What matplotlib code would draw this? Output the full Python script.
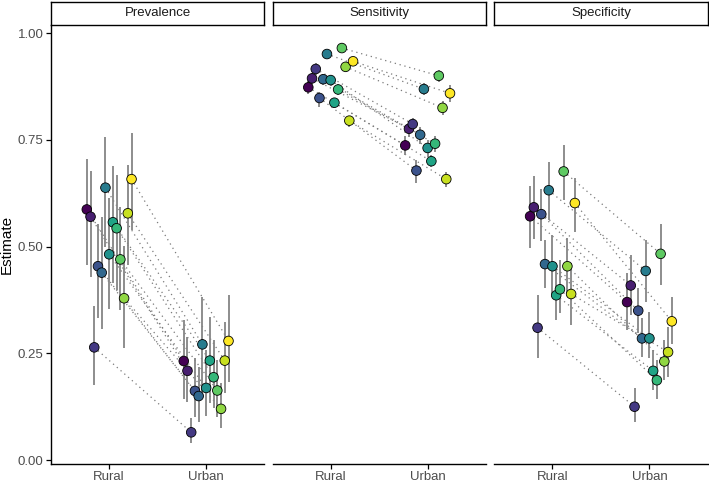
import numpy as np
import matplotlib
matplotlib.use("Agg")
import matplotlib.pyplot as plt

measures = ["Prevalence", "Sensitivity", "Specificity"]
settings = ["Rural", "Urban"]
n_groups = 13

# estimates per group (13 groups, viridis order), rural then urban
prev_rural = [0.587, 0.570, 0.264, 0.454, 0.439, 0.638, 0.482, 0.557, 0.543, 0.470, 0.379, 0.578, 0.658]
prev_rural_lo = [0.457, 0.429, 0.176, 0.332, 0.308, 0.500, 0.353, 0.414, 0.398, 0.351, 0.262, 0.457, 0.539]
prev_rural_hi = [0.704, 0.677, 0.361, 0.554, 0.570, 0.756, 0.613, 0.689, 0.667, 0.593, 0.501, 0.691, 0.765]
prev_urban = [0.232, 0.209, 0.065, 0.162, 0.150, 0.271, 0.169, 0.233, 0.194, 0.163, 0.120, 0.233, 0.279]
prev_urban_lo = [0.144, 0.137, 0.039, 0.101, 0.090, 0.156, 0.103, 0.133, 0.121, 0.101, 0.074, 0.156, 0.183]
prev_urban_hi = [0.328, 0.289, 0.098, 0.238, 0.219, 0.382, 0.258, 0.336, 0.281, 0.234, 0.180, 0.324, 0.386]

sens_rural = [0.873, 0.894, 0.916, 0.848, 0.892, 0.951, 0.890, 0.837, 0.868, 0.965, 0.921, 0.795, 0.934]
sens_rural_lo = [0.858, 0.880, 0.903, 0.827, 0.879, 0.942, 0.877, 0.824, 0.855, 0.956, 0.910, 0.781, 0.923]
sens_rural_hi = [0.888, 0.907, 0.929, 0.862, 0.905, 0.960, 0.903, 0.849, 0.881, 0.978, 0.932, 0.804, 0.945]
sens_urban = [0.737, 0.776, 0.787, 0.678, 0.762, 0.869, 0.731, 0.700, 0.741, 0.900, 0.825, 0.658, 0.859]
sens_urban_lo = [0.715, 0.757, 0.770, 0.648, 0.740, 0.855, 0.710, 0.687, 0.722, 0.886, 0.808, 0.640, 0.839]
sens_urban_hi = [0.758, 0.795, 0.802, 0.703, 0.780, 0.882, 0.750, 0.714, 0.758, 0.913, 0.840, 0.675, 0.878]

spec_rural = [0.571, 0.592, 0.310, 0.576, 0.459, 0.632, 0.454, 0.386, 0.400, 0.676, 0.454, 0.389, 0.602]
spec_rural_lo = [0.496, 0.517, 0.238, 0.514, 0.402, 0.562, 0.390, 0.328, 0.344, 0.609, 0.390, 0.316, 0.535]
spec_rural_hi = [0.642, 0.665, 0.386, 0.636, 0.515, 0.699, 0.527, 0.449, 0.468, 0.738, 0.519, 0.461, 0.660]
spec_urban = [0.370, 0.409, 0.125, 0.350, 0.285, 0.443, 0.285, 0.209, 0.187, 0.483, 0.231, 0.253, 0.325]
spec_urban_lo = [0.304, 0.340, 0.090, 0.297, 0.242, 0.371, 0.238, 0.164, 0.144, 0.410, 0.187, 0.195, 0.273]
spec_urban_hi = [0.437, 0.480, 0.168, 0.402, 0.332, 0.515, 0.347, 0.258, 0.234, 0.554, 0.281, 0.312, 0.382]

yticks = [0.00, 0.25, 0.50, 0.75, 1.00]

panels = {
    "Prevalence": [(prev_rural, prev_rural_lo, prev_rural_hi),
                   (prev_urban, prev_urban_lo, prev_urban_hi)],
    "Sensitivity": [(sens_rural, sens_rural_lo, sens_rural_hi),
                    (sens_urban, sens_urban_lo, sens_urban_hi)],
    "Specificity": [(spec_rural, spec_rural_lo, spec_rural_hi),
                    (spec_urban, spec_urban_lo, spec_urban_hi)],
}

plt.rcParams["font.family"] = ["Liberation Sans", "DejaVu Sans"]

W, H = 709, 482
fig = plt.figure(figsize=(W / 100, H / 100), dpi=100)

colors = plt.cm.viridis(np.linspace(0, 1, n_groups))
dodge = 0.5
offsets = (np.arange(n_groups) - (n_groups - 1) / 2) * dodge / n_groups

lefts = [51, 272.5, 494.3]
pw = 213.3
p_bottom, p_top = 18.5, 457   # px from figure bottom
strip_h = 23.5

for k, name in enumerate(measures):
    ax = fig.add_axes([lefts[k] / W, p_bottom / H, pw / W, (p_top - p_bottom) / H])
    (r, r_lo, r_hi), (u, u_lo, u_hi) = panels[name]
    xr = 1 + offsets
    xu = 2 + offsets
    for i in range(n_groups):
        ax.plot([xr[i], xu[i]], [r[i], u[i]], color="#7a7a7a", lw=0.9,
                ls=(0, (1, 3)), zorder=1)
    for xs, est, lo, hi in [(xr, r, r_lo, r_hi), (xu, u, u_lo, u_hi)]:
        ax.vlines(xs, lo, hi, color="#858585", lw=1.3, zorder=2)
        ax.scatter(xs, est, s=48, c=colors, edgecolors="black",
                   linewidths=0.6, zorder=3)

    ax.set_xlim(0.4, 2.6)
    ax.set_ylim(-0.008, 1.019)
    ax.set_xticks([1, 2])
    ax.set_xticklabels(settings)
    ax.set_yticks(yticks)
    ax.set_yticklabels(["%.2f" % t for t in yticks])
    for side in ["top", "right"]:
        ax.spines[side].set_visible(False)
    ax.spines["left"].set_visible(k == 0)
    ax.spines["bottom"].set_linewidth(1.0)
    ax.spines["left"].set_linewidth(1.0)
    ax.tick_params(axis="both", labelsize=9.5, colors="black", labelcolor="#4d4d4d",
                   length=3.5, width=0.9, pad=2)
    if k > 0:
        ax.tick_params(axis="y", left=False, labelleft=False)
    else:
        ax.set_ylabel("Estimate", fontsize=11, labelpad=3)

    sax = fig.add_axes([lefts[k] / W, p_top / H, pw / W, strip_h / H])
    sax.set_xticks([]); sax.set_yticks([])
    for sp in sax.spines.values():
        sp.set_linewidth(1.0)
    sax.text(0.5, 0.5, name, ha="center", va="center", fontsize=9.5,
             color="#1a1a1a", transform=sax.transAxes)

fig.savefig("out.png", dpi=100)
